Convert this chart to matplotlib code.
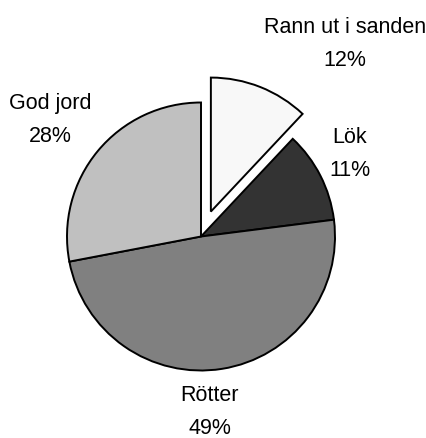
import matplotlib.pyplot as plt

labels = ["Rann ut i sanden", "Lök", "Rötter", "God jord"]
values = [12, 11, 49, 28]
colors = ["#f8f8f8", "#333333", "#808080", "#c0c0c0"]
explode_frac = [0.2, 0, 0, 0]

# label anchor positions in pixels (x, y from top)
label_pos = [(345, 44), (350, 154), (210, 412), (50, 120)]

W, H = 427, 438
fig = plt.figure(figsize=(W / 100, H / 100), dpi=100)
ax = fig.add_axes([0, 0, 1, 1])

cx, cy, r = 201, H - 236.5, 134
ax.pie(
    values,
    colors=colors,
    explode=[e * r for e in explode_frac],
    startangle=90,
    counterclock=False,
    center=(cx, cy),
    radius=r,
    frame=True,
    wedgeprops=dict(edgecolor="black", linewidth=1.4),
)
ax.set_xlim(0, W)
ax.set_ylim(0, H)
ax.set_aspect("equal")
ax.axis("off")

for lab, v, (x, y) in zip(labels, values, label_pos):
    ax.text(
        x, H - y, f"{lab}\n{v}%",
        ha="center", va="center",
        fontsize=15.5, linespacing=1.75,
        family="Liberation Sans",
        color="black",
    )

fig.savefig("out.png", dpi=100)
